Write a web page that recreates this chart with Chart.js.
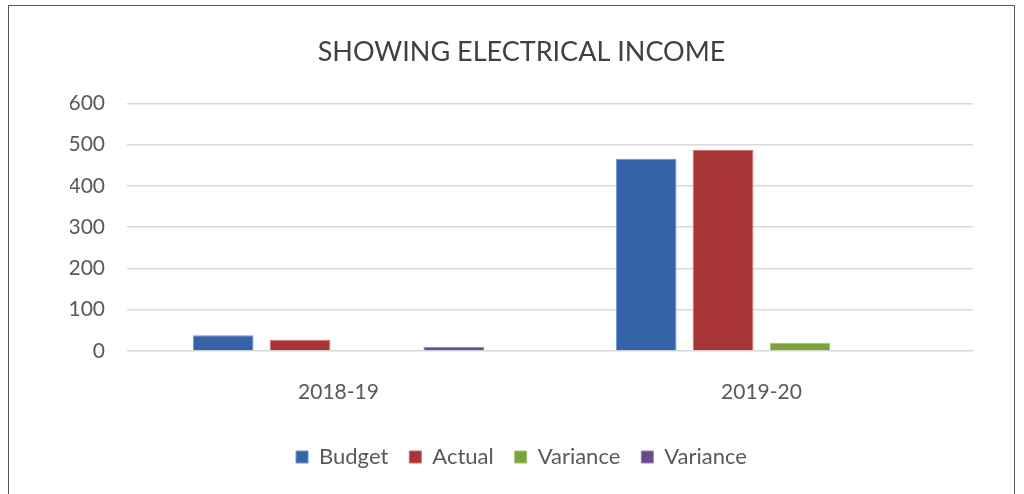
<!DOCTYPE html>
<html>
<head>
<meta charset="utf-8">
<script src="https://cdn.jsdelivr.net/npm/chart.js@4"></script>
<style>
  html, body { margin: 0; padding: 0; background: #fff; }
  .wrap { position: relative; width: 1024px; height: 494px; }
  .frame { position: absolute; left: 8px; top: 5px; width: 1007px; height: 500px;
           border: 1.5px solid #595959; box-sizing: border-box; pointer-events: none; }
</style>
</head>
<body>
<div class="wrap">
  <canvas id="chart" width="1024" height="494"></canvas>
  <div class="frame"></div>
</div>
<script>
// values
const categories = ['2018-19', '2019-20'];
const budget = [38, 466];
const actual = [27, 487];
const varianceGreen = [null, 20];
const variancePurple = [10, null];
const yTicks = [0, 100, 200, 300, 400, 500, 600];

const font = 'Lato, "Open Sans", sans-serif';

const ctx = document.getElementById('chart').getContext('2d');
new Chart(ctx, {
  type: 'bar',
  data: {
    labels: categories,
    datasets: [
      { label: 'Budget', data: budget, backgroundColor: '#3563A9', borderColor: '#6F93C9', borderWidth: 1 },
      { label: 'Actual', data: actual, backgroundColor: '#A83636', borderColor: '#C86B6B', borderWidth: 1 },
      { label: 'Variance', data: varianceGreen, backgroundColor: '#7BA33C', borderColor: '#A3C274', borderWidth: 1 },
      { label: 'Variance', data: variancePurple, backgroundColor: '#664C8E', borderColor: '#9483AE', borderWidth: 1 }
    ]
  },
  options: {
    responsive: false,
    animation: false,
    categoryPercentage: 0.727,
    barPercentage: 0.79,
    layout: { padding: { left: 70, right: 51, top: 0, bottom: 16 } },
    scales: {
      x: {
        grid: { display: false },
        border: { display: false },
        ticks: { color: '#595959', font: { family: font, size: 21 }, padding: 21 },
        afterFit: axis => { axis.height = 74; }
      },
      y: {
        min: 0,
        max: 600,
        afterBuildTicks: axis => { axis.ticks = yTicks.map(v => ({ value: v })); },
        grid: { color: '#D9D9D9', lineWidth: 1.5, drawTicks: false },
        border: { display: false },
        ticks: { color: '#595959', font: { family: font, size: 21 }, padding: 22 },
        afterFit: axis => { axis.width = 57; }
      }
    },
    plugins: {
      title: {
        display: true,
        text: 'SHOWING ELECTRICAL INCOME',
        color: '#404040',
        font: { family: font, size: 27, weight: 'normal' },
        padding: { top: 36, bottom: 35 }
      },
      legend: {
        position: 'bottom',
        labels: {
          color: '#595959',
          font: { family: font, size: 22 },
          boxWidth: 12,
          boxHeight: 12,
          padding: 21
        }
      },
      tooltip: { enabled: false }
    }
  }
});
</script>
</body>
</html>
